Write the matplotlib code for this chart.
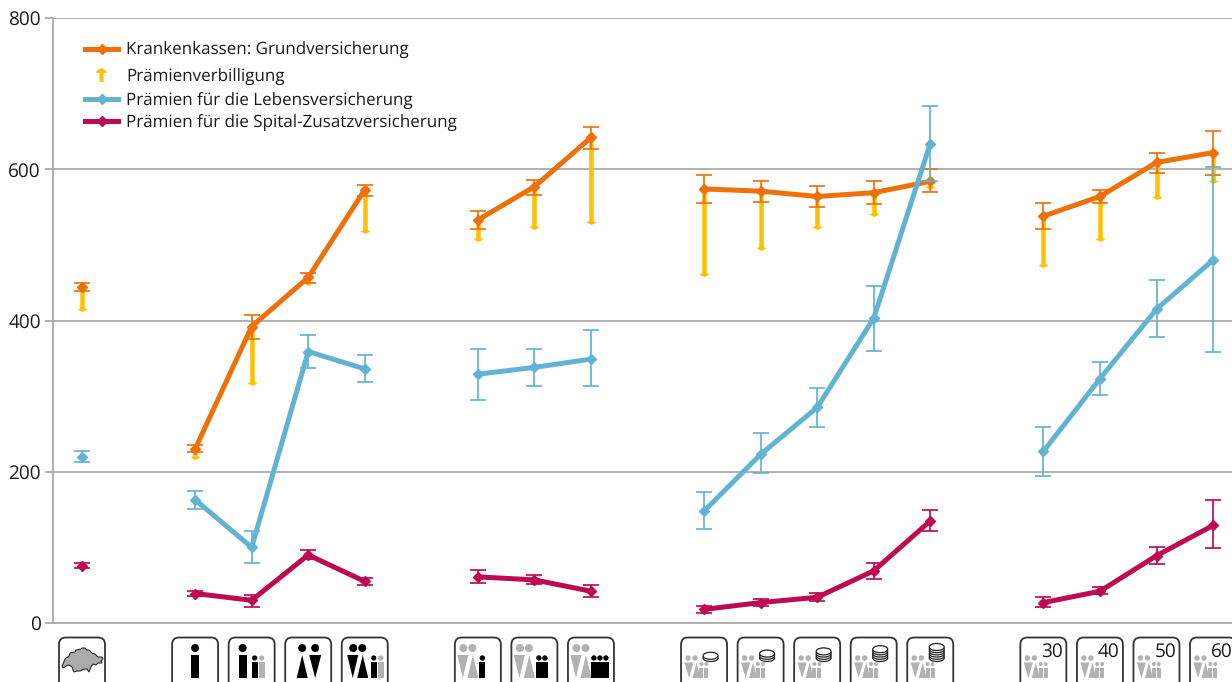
import matplotlib
matplotlib.use("Agg")
import matplotlib.pyplot as plt
from matplotlib.patches import FancyBboxPatch, Circle, Rectangle, Polygon, Ellipse
from matplotlib.lines import Line2D

plt.rcParams['font.family'] = ['Open Sans', 'DejaVu Sans']
plt.rcParams['text.hinting'] = 'no_hinting'
plt.rcParams['text.hinting_factor'] = 1

slots = [0, 2, 3, 4, 5, 7, 8, 9, 11, 12, 13, 14, 15, 17, 18, 19, 20]
groups = [(0, 1), (1, 5), (5, 8), (8, 13), (13, 17)]

kk = [444, 230, 392, 457, 573, 533, 577, 642, 574, 571, 564, 569, 584, 538, 564, 609, 622]
kk_low = [439, 226, 375, 450, 565, 521, 566, 627, 556, 557, 550, 554, 570, 521, 555, 595, 592]
kk_high = [449, 235, 407, 463, 579, 545, 586, 656, 592, 585, 578, 584, 600, 555, 572, 622, 650]
pv_low = [415, 220, 317, 449, 519, 508, 523, 530, 461, 496, 524, 541, 577, 473, 508, 563, 585]

lv = [220, 163, 100, 359, 336, 329, 338, 349, 148, 223, 285, 403, 634, 227, 323, 415, 480]
lv_low = [213, 151, 80, 337, 319, 295, 314, 313, 124, 198, 259, 360, 584, 195, 302, 378, 358]
lv_high = [227, 175, 121, 381, 354, 362, 362, 387, 173, 251, 311, 446, 684, 259, 345, 453, 603]

sp = [76, 39, 30, 90, 55, 61, 57, 42, 18, 27, 34, 69, 135, 27, 42, 89, 129]
sp_low = [73, 36, 21, 85, 50, 53, 51, 35, 13, 22, 29, 58, 121, 21, 38, 78, 99]
sp_high = [79, 42, 37, 97, 60, 70, 63, 50, 23, 32, 40, 80, 150, 34, 47, 101, 162]

legend_labels = ["Krankenkassen: Grundversicherung", "Prämienverbilligung",
                 "Prämien für die Lebensversicherung", "Prämien für die Spital-Zusatzversicherung"]
age_labels = ["30", "40", "50", "60"]
yticks = [0, 200, 400, 600, 800]

ORANGE, YELLOW, BLUE, RED = "#EE7008", "#FFC000", "#62B3D3", "#BE0A50"
GRID, ICON_GREY = "#ABABAB", "#B2B2B2"
W, H = 1232, 682
px = 72 / 100

fig = plt.figure(figsize=(W / 100, H / 100), dpi=100)
ax = fig.add_axes([53 / W, 1 - 623 / H, (W - 53) / W, 605 / H])
ax.set_ylim(0, 800)
ax.set_xlim(-0.513, 20.335)
ax.set_yticks(yticks)
ax.set_xticks([])
ax.tick_params(axis='y', length=8 * px, width=1.8 * px, color=GRID, labelsize=13.5, pad=3, labelcolor="#1a1a1a")
ax.yaxis.grid(True, color=GRID, lw=1.8 * px)
ax.set_axisbelow(True)
for s in ('top', 'right'):
    ax.spines[s].set_visible(False)
for s in ('left', 'bottom'):
    ax.spines[s].set_color(GRID)
    ax.spines[s].set_linewidth(1.8 * px)

flat_diamond = [(-1, 0), (0, 0.5), (1, 0), (0, -0.5), (-1, 0)]


def errs(low, high, color, z):
    ax.vlines(slots, low, high, color=color, lw=1.7 * px, zorder=z)
    for b in (low, high):
        ax.plot(slots, b, ls='none', marker='_', ms=16.5 * px, mew=1.7 * px, color=color, zorder=z, clip_on=False)


def series(vals, color, z):
    for a, b in groups:
        ax.plot(slots[a:b], vals[a:b], color=color, lw=5 * px, marker='D', ms=7 * px,
                solid_joinstyle='round', zorder=z, clip_on=False)


ax.vlines(slots, pv_low, kk, color=YELLOW, lw=4.5 * px, zorder=3)
ax.plot(slots, pv_low, ls='none', marker=flat_diamond, ms=10 * px, mew=0, color=YELLOW, zorder=3)
errs(kk_low, kk_high, ORANGE, 4)
series(kk, ORANGE, 5)
errs(lv_low, lv_high, BLUE, 6)
series(lv, BLUE, 7)
errs(sp_low, sp_high, RED, 8)
series(sp, RED, 9)

# overlay in pixel coordinates for the legend and icon row
ov = fig.add_axes([0, 0, 1, 1], zorder=10)
ov.set_xlim(0, W)
ov.set_ylim(H, 0)
ov.axis('off')
ov.patch.set_alpha(0)

legend_base = [55, 82, 105, 127]
legend_line = [48.5, None, 99, 121]
for yb, yl, lab, c in zip(legend_base, legend_line, legend_labels, [ORANGE, YELLOW, BLUE, RED]):
    ov.text(126.5, yb, lab, fontsize=12.25, va='baseline', ha='left', color="#1a1a1a")
    if yl is not None:
        ov.add_line(Line2D([85, 118], [yl, yl], color=c, lw=5 * px))
        ov.plot([101.5], [yl], marker='D', ms=7 * px, color=c)
ov.add_patch(Polygon([(101.5, 68), (106.5, 71), (106.5, 73), (103.5, 73), (103.5, 82),
                      (99.5, 82), (99.5, 73), (96.5, 73), (96.5, 71)], color=YELLOW, lw=0))


def circ(x, y, r, c):
    ov.add_patch(Circle((x, y), r, color=c, lw=0))


def rect(x0, x1, y0, c):
    ov.add_patch(Rectangle((x0, y0), x1 - x0, 678 - y0, color=c, lw=0))


def tri_up(x0, x1, y0, c):
    ov.add_patch(Polygon([(x0, 678), (x1, 678), ((x0 + x1) / 2, y0)], color=c, lw=0))


def tri_dn(x0, x1, y0, c):
    ov.add_patch(Polygon([(x0, y0), (x1, y0), ((x0 + x1) / 2, 678)], color=c, lw=0))


def small_family(cx):
    for dx in (-16, -9):
        circ(cx + dx, 658, 2.7, ICON_GREY)
    tri_dn(cx - 19.5, cx - 10.5, 662.5, ICON_GREY)
    tri_up(cx - 11.5, cx - 3.5, 662.5, ICON_GREY)
    for dx in (-2.7, 2.3):
        circ(cx + dx, 664, 2, ICON_GREY)
        rect(cx + dx - 2, cx + dx + 2, 667.5, ICON_GREY)


def big_couple(cx, c):
    ox = cx - 20
    circ(ox + 5.5, 648, 4, c)
    circ(ox + 14.5, 648, 4, c)
    tri_dn(ox - 0.5, ox + 10.5, 655, c)
    tri_up(ox + 9.5, ox + 20.5, 655, c)


centers = [82 + 56.55 * s for s in slots]
for cx in centers:
    ov.add_patch(FancyBboxPatch((cx - 20, 640.5), 40, 70, boxstyle="round,pad=3,rounding_size=7",
                                fc='white', ec="#333333", lw=1.8 * px, clip_on=True))

# Switzerland
cx = centers[0]
ch = [(-19, 26), (-17, 21), (-13, 18), (-12, 15), (-7, 14), (-6, 12), (-1, 11), (0, 10), (3, 10), (5, 12),
      (7, 12), (10, 15), (13, 16), (16, 19), (20, 19), (21, 21), (19, 23), (20, 25), (16, 25), (14, 27),
      (11, 26), (9, 29), (7, 34), (5, 31), (2, 31), (-2, 33), (-5, 33), (-8, 34), (-9, 32), (-10, 29),
      (-13, 27), (-16, 28), (-19, 30), (-20, 28)]
ov.add_patch(Polygon([(cx + a, 638 + b) for a, b in ch], fc="#ABABAB", ec="#1a1a1a", lw=1.0 * px))

# single and families
cx = centers[1]
circ(cx, 648, 4, 'k'); rect(cx - 4, cx + 4, 655, 'k')
cx = centers[2]
circ(cx - 9, 648, 4, 'k'); rect(cx - 13, cx - 5, 655, 'k')
circ(cx + 3, 658, 2.6, 'k'); rect(cx, cx + 6, 662, 'k')
circ(cx + 10, 658, 2.6, ICON_GREY); rect(cx + 7, cx + 13, 662, ICON_GREY)
cx = centers[3]
circ(cx - 6, 648, 4, 'k'); circ(cx + 7, 648, 4, 'k')
tri_up(cx - 11.5, cx - 0.5, 655, 'k'); tri_dn(cx + 1, cx + 13, 655, 'k')
cx = centers[4]
big_couple(cx + 3, 'k')
circ(cx + 9, 658, 2.6, 'k'); rect(cx + 6, cx + 12, 662, 'k')
circ(cx + 16, 658, 2.6, ICON_GREY); rect(cx + 13, cx + 19, 662, ICON_GREY)

# couples with one, two, three children
for i, n, off in zip((5, 6, 7), (1, 2, 3), (1.5, 1.5, 0)):
    cx = centers[i]
    big_couple(cx, ICON_GREY)
    x0 = cx + off
    rect(x0, x0 + 6 * n, 662, 'k')
    for k in range(n):
        circ(x0 + 3 + 6 * k, 658, 2.7, 'k')

# income coins
for i, n in zip(range(8, 13), (1, 2, 3, 4, 5)):
    cx = centers[i]
    small_family(cx)
    for k in range(n + 1):
        ov.add_patch(Ellipse((cx + 6.5, 658 - k * 2.2), 15, 7,
                             fc='white', ec="#1a1a1a", lw=1.2 * px))

# age
for i, lab in zip(range(13, 17), age_labels):
    cx = centers[i]
    small_family(cx)
    ov.text(cx + 9, 652, lab, fontsize=13.5, ha='center', va='center', color="#1a1a1a")

fig.savefig("out.png", dpi=100)
